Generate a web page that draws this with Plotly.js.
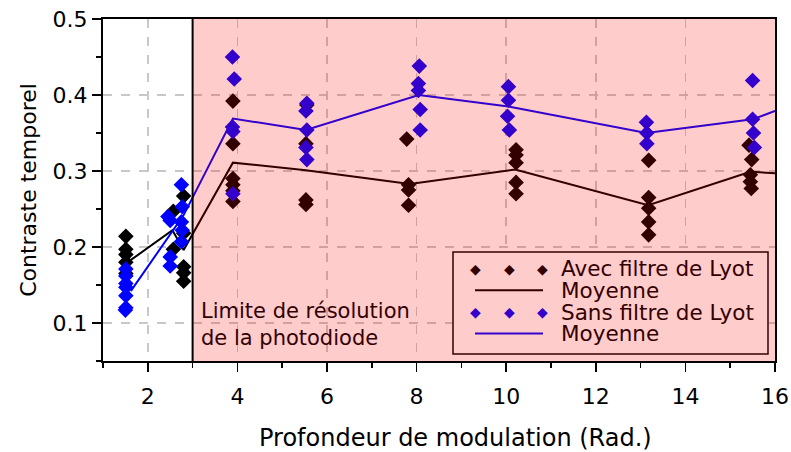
<!DOCTYPE html>
<html>
<head>
<meta charset="utf-8">
<script src="https://cdn.plot.ly/plotly-3.0.1.min.js"></script>
<style>html,body{margin:0;padding:0;background:#fff;}#chart{width:791px;height:452px;}</style>
</head>
<body>
<div id="chart"></div>
<script>
// Avec filtre de Lyot (points)
const avecX = [1.51,1.51,1.51,1.51,1.51, 2.57,2.57, 2.8,2.8,2.8,2.8,2.8,
  3.9,3.9,3.9,3.9,3.9,3.9, 5.55,5.53,5.53,5.53, 7.78,7.82,7.82,7.82,
  10.22,10.22,10.22,10.22,10.22, 13.18,13.18,13.18,13.18,13.18,
  15.42,15.48,15.45,15.45,15.47];
const avecY = [0.214,0.197,0.19,0.18,0.165, 0.247,0.197, 0.267,0.218,0.174,0.166,0.155,
  0.392,0.336,0.29,0.282,0.274,0.26, 0.387,0.336,0.262,0.256, 0.342,0.282,0.275,0.255,
  0.328,0.321,0.311,0.285,0.27, 0.314,0.265,0.251,0.233,0.216,
  0.334,0.315,0.295,0.286,0.277];
// Sans filtre de Lyot (points)
const sansX = [1.51,1.51,1.51,1.51,1.51,1.51,1.5, 2.45,2.5,2.5,2.5, 2.75,2.77,2.75,2.77,2.75,
  3.89,3.93,3.89,3.9,3.9, 5.55,5.53,5.55,5.53,5.55, 8.06,8.04,8.04,8.08,8.08,
  10.05,10.05,10.03,10.07, 13.13,13.14,13.14, 15.5,15.5,15.52,15.54];
const sansY = [0.171,0.162,0.152,0.147,0.136,0.12,0.117, 0.24,0.235,0.187,0.175, 0.282,0.253,0.233,0.222,0.207,
  0.45,0.421,0.358,0.352,0.27, 0.389,0.379,0.354,0.331,0.315, 0.438,0.415,0.406,0.381,0.354,
  0.411,0.393,0.372,0.354, 0.364,0.35,0.336, 0.419,0.368,0.35,0.331];
// Moyennes
const moyAvecX = [1.6, 2.55, 2.8, 3.9, 5.53, 7.85, 10.2, 13.17, 15.45, 16];
const moyAvecY = [0.182, 0.222, 0.196, 0.311, 0.301, 0.283, 0.302, 0.255, 0.299, 0.297];
const moySansX = [1.62, 2.55, 2.8, 3.9, 5.53, 8.05, 10.05, 13.13, 15.5, 16];
const moySansY = [0.142, 0.221, 0.242, 0.369, 0.354, 0.400, 0.385, 0.350, 0.368, 0.379];

const xTitle = 'Profondeur de modulation (Rad.)';
const yTitle = 'Contraste temporel';
const legendLabels = ['Avec filtre de Lyot', 'Moyenne', 'Sans filtre de Lyot', 'Moyenne'];
const noteLines = ['Limite de résolution', 'de la photodiode'];

const FONT = 'DejaVu Sans, Verdana, sans-serif';
const BLACK = '#000000', BLUE = '#0000ff';
const BLACK_T = '#330000', BLUE_T = '#3300cc';

const traces = [
  {x: avecX, y: avecY, mode: 'markers', type: 'scatter',
   marker: {symbol: 'diamond', size: 12, color: BLACK}, showlegend: false},
  {x: moyAvecX, y: moyAvecY, mode: 'lines', type: 'scatter',
   line: {color: BLACK, width: 2}, showlegend: false},
  {x: sansX, y: sansY, mode: 'markers', type: 'scatter',
   marker: {symbol: 'diamond', size: 12, color: BLUE}, showlegend: false},
  {x: moySansX, y: moySansY, mode: 'lines', type: 'scatter',
   line: {color: BLUE, width: 2}, showlegend: false}
];

// paper coordinate helpers from pixel positions (plot area 103..775 x 19..361)
const px = v => (v - 103) / 672;
const py = v => (361 - v) / 342;

const rowY = [268.6, 290.2, 312.3, 333.4];
const shapes = [
  {type: 'rect', xref: 'paper', yref: 'paper', x0: px(453), x1: px(768), y0: py(354), y1: py(252),
   fillcolor: '#ffffff', line: {width: 0}, layer: 'above'},
  {type: 'rect', xref: 'x', yref: 'paper', x0: 3, x1: 16, y0: 0, y1: 1,
   fillcolor: 'rgba(255,0,0,0.2)', line: {width: 0}, layer: 'above'},
  {type: 'rect', xref: 'paper', yref: 'paper', x0: px(453), x1: px(768), y0: py(354), y1: py(252),
   fillcolor: 'rgba(0,0,0,0)', line: {color: BLACK_T, width: 1.5}, layer: 'above'},
  {type: 'line', xref: 'x', yref: 'paper', x0: 3, x1: 3, y0: 0, y1: 1,
   line: {color: BLACK, width: 2}, layer: 'above'},
  {type: 'line', xref: 'paper', yref: 'paper', x0: px(475), x1: px(543), y0: py(rowY[1]), y1: py(rowY[1]),
   line: {color: BLACK_T, width: 2}, layer: 'above'},
  {type: 'line', xref: 'paper', yref: 'paper', x0: px(475), x1: px(543), y0: py(rowY[3]), y1: py(rowY[3]),
   line: {color: BLUE_T, width: 2}, layer: 'above'}
];

const annotations = [];
legendLabels.forEach((t, i) => {
  annotations.push({xref: 'paper', yref: 'paper', x: px(559), y: py(rowY[i]), text: t,
    showarrow: false, xanchor: 'left', yanchor: 'middle',
    font: {family: FONT, size: 21.5, color: BLACK_T}});
});
[0, 2].forEach(i => {
  [475.4, 509, 542.7].forEach(xx => {
    annotations.push({xref: 'paper', yref: 'paper', x: px(xx), y: py(rowY[i]), text: '◆',
      showarrow: false, xanchor: 'center', yanchor: 'middle',
      font: {family: FONT, size: 14, color: i === 0 ? BLACK_T : BLUE_T}});
  });
});
noteLines.forEach((t, i) => {
  annotations.push({xref: 'paper', yref: 'paper', x: px(199), y: py([311, 338][i]), text: t,
    showarrow: false, xanchor: 'left', yanchor: 'middle',
    font: {family: FONT, size: 21, color: BLACK_T}});
});
// x-axis title (placed like the reference, slightly right of centre)
annotations.push({xref: 'paper', yref: 'paper', x: px(455), y: py(438), text: xTitle,
  showarrow: false, xanchor: 'center', yanchor: 'middle',
  font: {family: FONT, size: 24, color: '#000'}});

const layout = {
  width: 791, height: 452,
  margin: {l: 103, r: 16, t: 19, b: 91},
  paper_bgcolor: '#ffffff', plot_bgcolor: '#ffffff',
  font: {family: FONT, color: '#000', size: 22},
  showlegend: false,
  xaxis: {
    range: [1, 16], tick0: 0, dtick: 2, ticks: 'outside', ticklen: 9, tickwidth: 1.5, tickcolor: '#000',
    ticklabelstandoff: 6,
    showline: true, linecolor: '#000', linewidth: 2, mirror: true, zeroline: false,
    showgrid: true, gridcolor: '#c8c8c8', gridwidth: 1.5, griddash: 'dash',
    minor: {dtick: 1, ticks: 'outside', ticklen: 5, tickwidth: 1.5, tickcolor: '#000', showgrid: false},
    tickfont: {family: FONT, size: 22, color: '#000'}
  },
  yaxis: {
    range: [0.05, 0.5], tick0: 0.1, dtick: 0.1, tickformat: '.1f', ticks: 'outside', ticklen: 9, tickwidth: 1.5, tickcolor: '#000',
    showline: true, linecolor: '#000', linewidth: 2, mirror: true, zeroline: false,
    showgrid: true, gridcolor: '#c8c8c8', gridwidth: 1.5, griddash: 'dash',
    minor: {dtick: 0.05, ticks: 'outside', ticklen: 5, tickwidth: 1.5, tickcolor: '#000', showgrid: false},
    tickfont: {family: FONT, size: 22, color: '#000'},
    title: {text: yTitle, font: {family: FONT, size: 22, color: '#000'}, standoff: 10}
  },
  shapes: shapes,
  annotations: annotations
};

Plotly.newPlot('chart', traces, layout, {staticPlot: true, displayModeBar: false});
</script>
</body>
</html>
